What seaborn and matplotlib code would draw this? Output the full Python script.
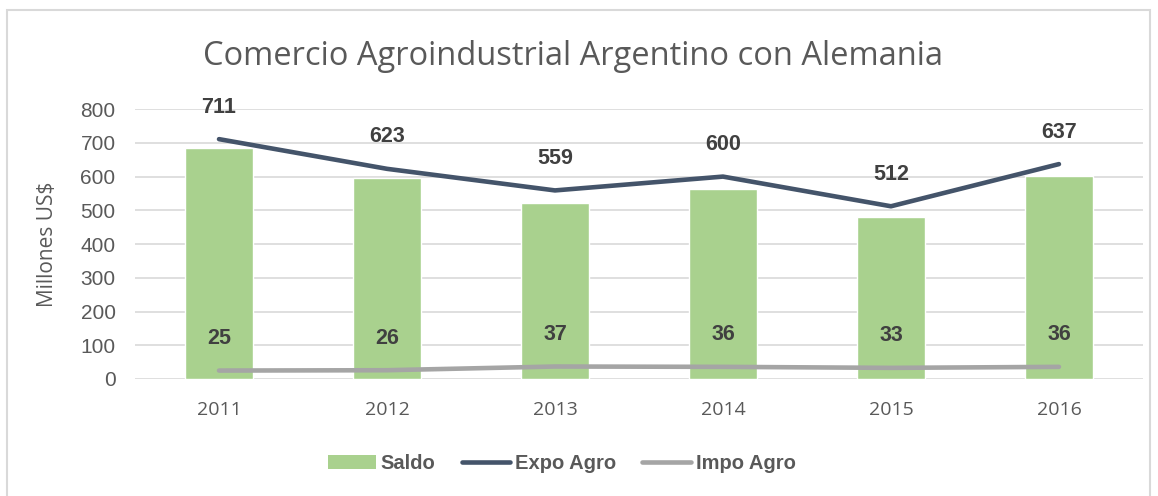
import numpy as np
import pandas as pd
import matplotlib.pyplot as plt
import seaborn as sns
from matplotlib.patches import Rectangle, Patch
from matplotlib.lines import Line2D

years = ['2011', '2012', '2013', '2014', '2015', '2016']
expo = [711, 623, 559, 600, 512, 637]
impo = [25, 26, 37, 36, 33, 36]
saldo = [e - i for e, i in zip(expo, impo)]

df = pd.DataFrame({'year': years, 'Saldo': saldo, 'Expo': expo, 'Impo': impo})

sns.set_style('white')
plt.rcParams['font.family'] = ['Liberation Sans Narrow', 'Liberation Sans', 'DejaVu Sans']

txt = '#595959'
dark = '#404040'
green = '#A9D18E'
navy = '#44546A'
grey = '#A5A5A5'

fig = plt.figure(figsize=(11.58, 4.96), dpi=100)
ax = fig.add_axes([0.1166, 0.2359, 0.8704, 0.5441])

# frame round the whole chart
fig.patches.append(Rectangle((7 / 1158, -0.05), 1143 / 1158, 1 - 10 / 496 + 0.05,
                             transform=fig.transFigure, fill=False,
                             edgecolor='#D9D9D9', linewidth=1.5, zorder=0))

sns.barplot(data=df, x='year', y='Saldo', color=green, width=0.4,
            saturation=1, ax=ax, zorder=2)
sns.lineplot(data=df, x='year', y='Expo', color=navy, linewidth=3.3,
             ax=ax, zorder=3, solid_capstyle='round')
sns.lineplot(data=df, x='year', y='Impo', color=grey, linewidth=3.3,
             ax=ax, zorder=3, solid_capstyle='round')

for i, v in enumerate(expo):
    ax.annotate(str(v), (i, v), xytext=(0, 23), textcoords='offset points',
                ha='center', va='center', fontsize=15.5, fontweight='bold', color=dark)
for i, v in enumerate(impo):
    ax.annotate(str(v), (i, v), xytext=(0, 23), textcoords='offset points',
                ha='center', va='center', fontsize=15.5, fontweight='bold', color=dark)

ax.set_ylim(0, 800)
ax.set_xlim(-0.5, 5.5)
ax.set_yticks(range(0, 801, 100))
ax.yaxis.grid(True, color='#D9D9D9', linewidth=1.2, zorder=0)
ax.set_axisbelow(True)
for s in ax.spines.values():
    s.set_visible(False)
ax.tick_params(axis='y', labelsize=15, colors=txt, length=0, pad=14)
ax.tick_params(axis='x', labelsize=14, colors=txt, length=0, pad=16)
for lab in ax.get_xticklabels():
    lab.set_fontfamily(['Open Sans', 'DejaVu Sans'])
    lab.set_fontsize(14)
ax.set_xlabel('')
ax.set_ylabel('Millones US$', fontsize=15, color=txt, labelpad=16,
              fontfamily=['Open Sans', 'DejaVu Sans'])

fig.text(0.495, 0.887, 'Comercio Agroindustrial Argentino con Alemania',
         ha='center', va='center', fontsize=23.5, color=txt,
         fontfamily=['Open Sans', 'DejaVu Sans'])

handles = [Patch(facecolor=green, edgecolor='none', label='Saldo'),
           Line2D([], [], color=navy, linewidth=3.3, solid_capstyle='round', label='Expo Agro'),
           Line2D([], [], color=grey, linewidth=3.3, solid_capstyle='round', label='Impo Agro')]
leg = fig.legend(handles=handles, loc='center', bbox_to_anchor=(0.485, 0.065), ncol=3,
                 frameon=False, handlelength=2.4, handletextpad=0.25,
                 columnspacing=1.3, prop={'weight': 'bold', 'size': 14.5})
for t in leg.get_texts():
    t.set_color(txt)

fig.savefig('out.png', dpi=100)
